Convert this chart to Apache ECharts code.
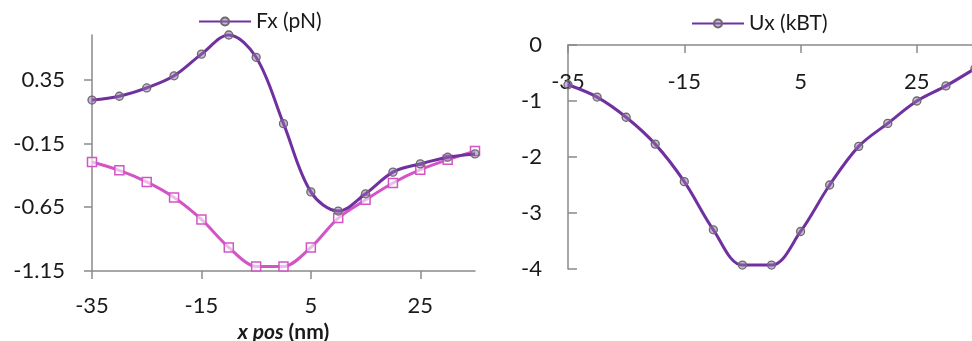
<!DOCTYPE html>
<html>
<head>
<meta charset="utf-8">
<script src="https://cdn.jsdelivr.net/npm/echarts@6/dist/echarts.min.js"></script>
<style>
html,body{margin:0;padding:0;background:#fff;}
#chart{width:972px;height:341px;}
</style>
</head>
<body>
<div id="chart"></div>
<script>
// ---- data ----
var xPos = [-35, -30, -25, -20, -15, -10, -5, 0, 5, 10, 15, 20, 25, 30, 35];
var fxValues = [0.19, 0.22, 0.285, 0.38, 0.55, 0.70, 0.525, 0.005, -0.53, -0.68, -0.545, -0.375, -0.31, -0.258, -0.232];
var fxPinkValues = [-0.296, -0.361, -0.452, -0.574, -0.746, -0.965, -1.115, -1.115, -0.965, -0.735, -0.592, -0.46, -0.356, -0.278, -0.21];
var uxValues = [-0.71, -0.93, -1.29, -1.77, -2.44, -3.30, -3.93, -3.93, -3.33, -2.50, -1.81, -1.40, -1.00, -0.73, -0.42];
var xTicks = [-35, -15, 5, 25];
var fxTicks = [-1.15, -0.65, -0.15, 0.35];
var uxTicks = [0, -1, -2, -3, -4];

function pairs(xs, ys) { return xs.map(function (x, i) { return [x, ys[i]]; }); }

var FONT = 'Lato';
var TXT = '#1a1a1a';
var AXC = '#8a8a8a';
var PURPLE = '#7030a0';
var PINK = '#d255c6';

var chart = echarts.init(document.getElementById('chart'), null, {renderer: 'canvas'});
chart.setOption({
  animation: false,
  backgroundColor: '#ffffff',
  textStyle: {fontFamily: FONT},
  legend: [
    {data: ['Fx (pN)'], left: 193, top: 6, itemWidth: 52, itemHeight: 10, itemGap: 6,
     textStyle: {fontFamily: FONT, fontSize: 21, color: TXT}},
    {data: ['Ux (kBT)'], left: 686, top: 8, itemWidth: 52, itemHeight: 10, itemGap: 6,
     textStyle: {fontFamily: FONT, fontSize: 21, color: TXT}}
  ],
  grid: [
    {left: 92, top: 35, width: 383, height: 236, outerBoundsMode: 'none', containLabel: false},
    {left: 568, top: 45, width: 407, height: 224, outerBoundsMode: 'none', containLabel: false}
  ],
  xAxis: [
    {gridIndex: 0, type: 'value', min: -35, max: 35,
     name: '{a|x pos}{b| (nm)}', nameLocation: 'middle', nameGap: 40,
     nameTextStyle: {rich: {a: {fontFamily: FONT, fontSize: 21, fontWeight: 'bold', fontStyle: 'italic', color: TXT},
                            b: {fontFamily: FONT, fontSize: 21, fontWeight: 'bold', color: TXT}}},
     axisLine: {onZero: false, lineStyle: {color: AXC, width: 1.5}},
     axisTick: {show: true, length: 8, customValues: xTicks, lineStyle: {color: AXC, width: 1.5}},
     axisLabel: {customValues: xTicks, margin: 24, fontFamily: FONT, fontSize: 22, color: TXT},
     splitLine: {show: false}},
    {gridIndex: 1, type: 'value', min: -35, max: 35, position: 'top',
     axisLine: {onZero: false, lineStyle: {color: AXC, width: 1.5}},
     axisTick: {show: true, inside: true, length: 8, customValues: xTicks, lineStyle: {color: AXC, width: 1.5}},
     axisLabel: {inside: true, customValues: xTicks, margin: 26, fontFamily: FONT, fontSize: 22, color: TXT},
     splitLine: {show: false}}
  ],
  yAxis: [
    {gridIndex: 0, type: 'value', min: -1.15, max: 0.7,
     axisLine: {show: true, onZero: false, lineStyle: {color: AXC, width: 1.5}},
     axisTick: {show: true, length: 8, customValues: fxTicks, lineStyle: {color: AXC, width: 1.5}},
     axisLabel: {customValues: fxTicks, margin: 27, fontFamily: FONT, fontSize: 22, color: TXT,
                 formatter: function (v) { return v.toFixed(2); }},
     splitLine: {show: false}},
    {gridIndex: 1, type: 'value', min: -4, max: 0, interval: 1,
     axisLine: {show: true, onZero: false, lineStyle: {color: AXC, width: 1.5}},
     axisTick: {show: true, inside: true, length: 9, customValues: uxTicks, lineStyle: {color: AXC, width: 1.5}},
     axisLabel: {customValues: uxTicks, margin: 26, fontFamily: FONT, fontSize: 22, color: TXT},
     splitLine: {show: false}}
  ],
  series: [
    {name: 'Fx pink', type: 'line', xAxisIndex: 0, yAxisIndex: 0, data: pairs(xPos, fxPinkValues),
     smooth: 0.3, symbol: 'rect', symbolSize: 9, showAllSymbol: true, clip: false,
     lineStyle: {color: PINK, width: 3},
     itemStyle: {color: 'rgba(255,255,255,0.6)', borderColor: PINK, borderWidth: 1.5}, z: 2},
    {name: 'Fx (pN)', type: 'line', xAxisIndex: 0, yAxisIndex: 0, data: pairs(xPos, fxValues),
     smooth: 0.35, symbol: 'circle', symbolSize: 8, showAllSymbol: true, clip: false,
     lineStyle: {color: PURPLE, width: 3},
     itemStyle: {color: 'rgba(150,110,180,0.5)', borderColor: '#6a6a6a', borderWidth: 1.3}, z: 3},
    {name: 'Ux (kBT)', type: 'line', xAxisIndex: 1, yAxisIndex: 1, data: pairs(xPos, uxValues),
     smooth: 0.35, symbol: 'circle', symbolSize: 8, showAllSymbol: true, clip: false,
     lineStyle: {color: PURPLE, width: 3},
     itemStyle: {color: 'rgba(150,110,180,0.5)', borderColor: '#6a6a6a', borderWidth: 1.3}, z: 3}
  ]
});
</script>
</body>
</html>
